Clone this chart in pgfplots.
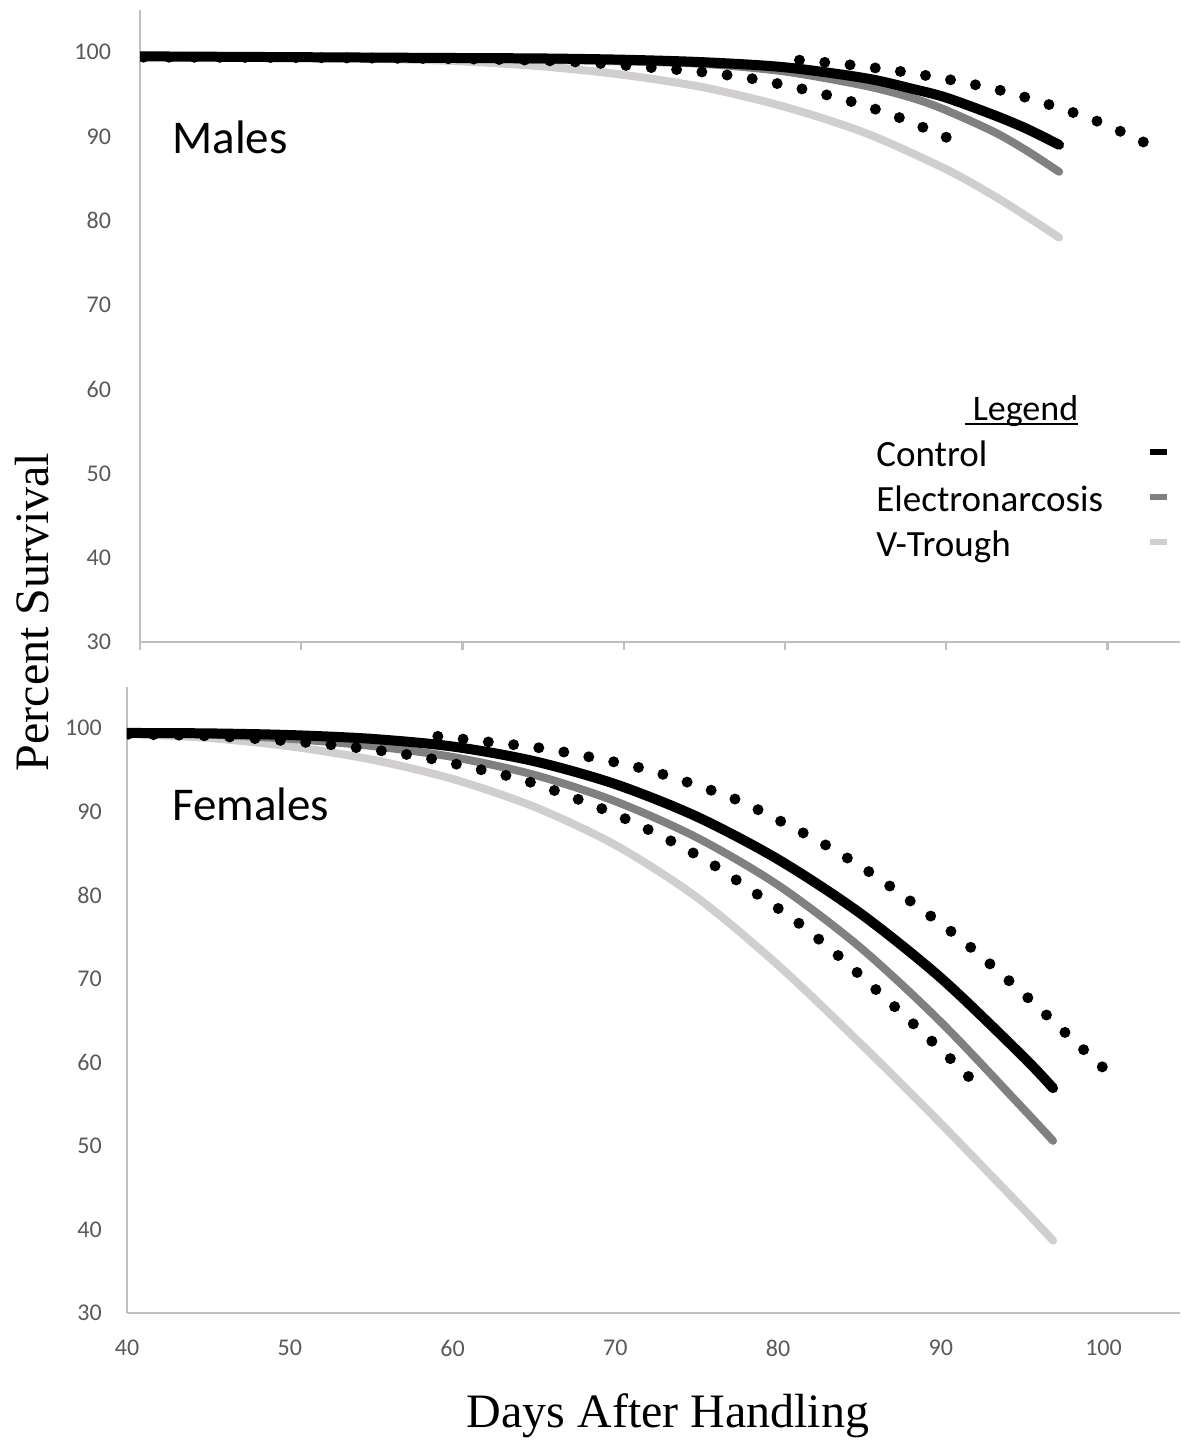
\documentclass[border=0pt]{standalone}
\usepackage{fontspec}
\setmainfont{Carlito}
\newfontfamily\timesf{Liberation Serif}
\usepackage{pgfplots}
\usepackage{pgfplotstable}
\pgfplotsset{compat=1.18}
\definecolor{axisgray}{HTML}{BFBFBF}
\definecolor{tickgray}{HTML}{595959}
\definecolor{elgray}{HTML}{808080}
\definecolor{vgray}{HTML}{D0CECE}

% ---------- Males ----------
\pgfplotstableread{
x y
40 99.5
50 99.4
60 99.3
65 99.25
70 99.1
75 98.8
80 98.2
85 96.9
88 95.6
90 94.6
93 92.5
95 90.9
97 89.0
}\mctrl
\pgfplotstableread{
x y
40 99.5
50 99.4
60 99.25
65 99.1
70 98.9
75 98.6
80 97.7
85 96.0
88 94.5
90 93.1
93 90.5
95 88.3
97 85.8
}\melec
\pgfplotstableread{
x y
40 99.6
45 99.5
50 99.4
55 99.2
60 98.9
65 98.3
70 97.3
75 95.8
80 93.5
85 90.4
90 86.1
93 82.9
95 80.5
97 78.0
}\mvtr
\pgfplotstableread{
x y
80.9 99.05
84.0 98.5
87.2 97.7
90.3 96.7
93.5 95.4
96.5 93.7
99.5 91.7
102.6 89.0
}\mup
\pgfplotstableread{
x y
90.0 89.9
87.0 92.3
84.0 94.2
80.9 95.7
77.8 96.9
74.6 97.7
71.5 98.2
68.3 98.7
65 99.0
60 99.2
50 99.35
40 99.4
}\mlo

% ---------- Females ----------
\pgfplotstableread{
x y
40 99.4
45 99.35
50 99.15
55 98.7
60 97.78
65 96.03
70 93.28
75 89.4
80 84.28
85 77.9
90 70.1
95 60.8
96.9 56.9
}\fctrl
\pgfplotstableread{
x y
40 99.4
45 99.2
50 98.7
55 97.85
60 96.53
65 94.4
70 91.23
75 86.9
80 81.2
85 73.83
90 64.83
95 54.58
96.9 50.6
}\felec
\pgfplotstableread{
x y
40 99.3
45 98.8
50 97.8
55 96.23
60 93.9
65 90.58
70 86.0
75 79.75
80 71.63
85 62.38
90 52.68
95 42.6
96.9 38.66
}\fvtr
\pgfplotstableread{
x y
59.1 99.0
62.3 98.3
65.4 97.6
68.5 96.5
71.6 95.2
74.6 93.4
77.6 91.3
80.4 88.6
83.1 85.8
85.9 82.4
88.4 78.9
91.0 75.1
93.3 71.3
95.7 67.1
98.0 62.9
100.4 58.6
}\fup
\pgfplotstableread{
x y
91.7 58.3
90.5 60.6
88.2 64.8
85.9 68.9
83.5 73.1
81.1 76.9
78.5 80.4
75.8 83.9
73.1 86.8
70.2 89.5
67.4 91.7
64.3 93.8
61.3 95.2
58.2 96.5
55.1 97.4
52.0 98.1
48.8 98.6
45 99.05
40 99.25
}\flo

\pgfplotsset{
  panel/.style={
    scale only axis,
    axis x line=bottom, axis y line=left,
    axis line style={axisgray, line width=1.2pt, -},
    xmin=40, ymin=30,
    ytick={30,40,...,100},
    xtick={40,50,...,100},
    ytick style={draw=none},
    tick label style={font=\fontsize{12}{14}\selectfont, text=tickgray},
    /pgf/number format/assume math mode=true,
    yticklabel style={xshift=-7pt},
  },
  ctrl/.style={black, line width=5pt, line cap=round, smooth},
  elec/.style={elgray, line width=4pt, line cap=round, smooth},
  vtr/.style={vgray, line width=4pt, line cap=round, smooth},
  dots/.style={black, line width=5.5pt, line cap=round, dash pattern=on 0pt off 12.7pt, smooth},
}

\begin{document}
\begin{tikzpicture}
\useasboundingbox (0,0) rectangle (591pt,721pt);

% Top panel: Males
\begin{axis}[panel,
  at={(70pt,400pt)}, anchor=south west,
  width=520pt, height=316pt,
  xmax=104.5, ymax=105,
  xticklabels={},
  tick align=outside,
  x tick style={axisgray, line width=1.2pt},
  major tick length=4pt,
  legend style={at={(rel axis cs:0.7077,0.3165)}, anchor=north west,
    draw=none, fill=none, inner sep=0pt, row sep=6.5pt, column sep=22pt,
    font=\fontsize{18.5}{22}\selectfont,
    nodes={inner sep=0pt, text height=12pt, text depth=4pt}},
  legend cell align=left,
  legend plot pos=right,
  reverse legend,
  legend image code/.code={\draw[#1, line width=3pt, line cap=butt] (0pt,3pt) -- (8.5pt,3pt);},
]
\addplot[vtr] table {\mvtr};
\addlegendentry{V-Trough}
\addplot[elec] table {\melec};
\addlegendentry{Electronarcosis}
\addplot[ctrl] table {\mctrl};
\addlegendentry{Control}
\addplot[dots, forget plot] table {\mup};
\addplot[dots, forget plot] table {\mlo};
\node[anchor=base west, inner sep=0pt, font=\fontsize{23.5}{28}\selectfont] at (rel axis cs:0.0308,0.7737) {Males};
\node[anchor=base, inner sep=0pt, font=\fontsize{18}{22}\selectfont] at (rel axis cs:0.8475,0.351)
  {\setbox0\hbox{\ Legend}\rlap{\rule[-2.5pt]{\wd0}{0.9pt}}\box0};
\end{axis}

% Bottom panel: Females
\begin{axis}[panel,
  at={(63.5pt,64.5pt)}, anchor=south west,
  width=526.5pt, height=313pt,
  xmax=104.7, ymax=104.9,
  x tick style={draw=none},
  xticklabel style={yshift=-8pt},
]
\addplot[vtr] table {\fvtr};
\addplot[elec] table {\felec};
\addplot[ctrl] table {\fctrl};
\addplot[dots] table {\fup};
\addplot[dots] table {\flo};
\node[anchor=base west, inner sep=0pt, font=\fontsize{23.5}{28}\selectfont] at (rel axis cs:0.0427,0.7875) {Females};
\end{axis}

\node[rotate=90, inner sep=0pt, font=\timesf\fontsize{24}{28}\selectfont] at (16pt,415pt) {Percent Survival};
\node[anchor=base, inner sep=0pt, font=\timesf\fontsize{24}{28}\selectfont] at (334pt,7pt) {Days After Handling};
\end{tikzpicture}
\end{document}
